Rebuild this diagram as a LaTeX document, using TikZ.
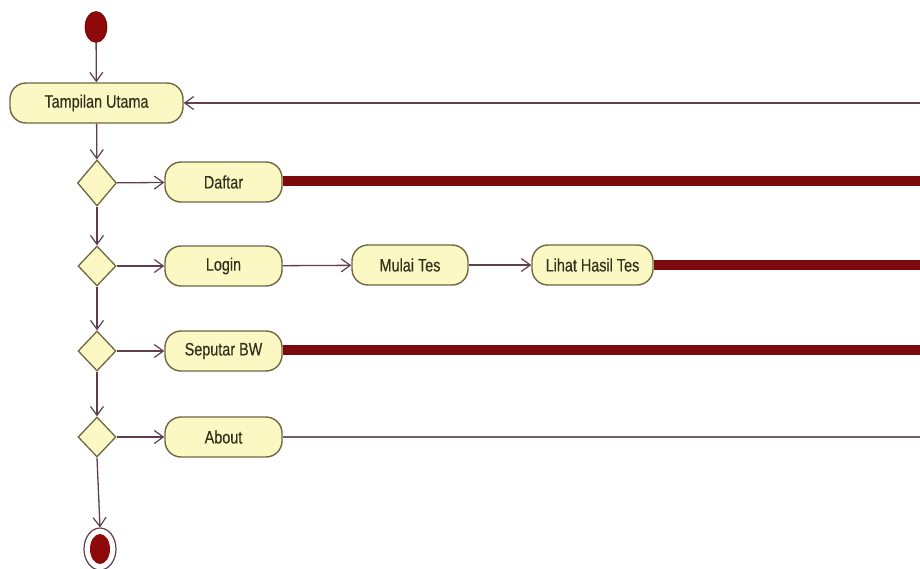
\documentclass[tikz,border=0pt]{standalone}
\usepackage{fontspec}
\setmainfont[FakeStretch=0.8,FakeBold=0.4]{Liberation Sans}
\usetikzlibrary{arrows.meta,shapes.geometric}

\definecolor{actfill}{HTML}{FCF8C4}
\definecolor{actedge}{HTML}{6E6743}
\definecolor{acttext}{HTML}{33311C}
\definecolor{flow}{HTML}{5E3F4E}
\definecolor{thinline}{HTML}{6E6064}
\definecolor{band}{HTML}{7A0A0C}
\definecolor{dot}{HTML}{8E0A0A}

\tikzset{
  activity/.style={draw=actedge, line width=1.4pt, fill=actfill, rounded corners=16pt,
    minimum height=40pt, inner sep=0pt, text=acttext, font=\fontsize{18}{18}\selectfont},
  decision/.style={draw=actedge, line width=1.3pt, fill=actfill, diamond, aspect=1,
    inner sep=0pt},
  flowline/.style={draw=flow, line width=1.3pt, -{Straight Barb[length=9pt,width=13pt,line width=1.2pt]}},
  bandline/.style={draw=band, line width=10pt},
  plainline/.style={draw=thinline, line width=1.5pt},
}

\begin{document}
\begin{tikzpicture}[x=1pt,y=-1pt]
  \useasboundingbox (0,0) rectangle (920,568);

  % start and end states
  \node[ellipse, fill=dot, draw=dot!70!black, line width=0.6pt, minimum width=22pt, minimum height=31pt, inner sep=0pt] (start) at (96,27) {};
  \node[ellipse, draw=flow, line width=1.2pt, fill=white, minimum width=32pt, minimum height=42pt, inner sep=0pt] (stop) at (100,549) {};
  \node[ellipse, fill=dot, minimum width=20pt, minimum height=30pt, inner sep=0pt] (stopdot) at (100,549) {};

  % activities
  \node[activity, minimum width=173pt] (utama) at (96.5,103) {Tampilan Utama};
  \node[activity, minimum width=117pt] (daftar) at (223.5,182) {Daftar};
  \node[activity, minimum width=117pt] (login) at (223.5,266) {Login};
  \node[activity, minimum width=116pt] (mulai) at (410,265) {Mulai Tes};
  \node[activity, minimum width=121pt] (hasil) at (592.5,265) {Lihat Hasil Tes};
  \node[activity, minimum width=117pt] (seputar) at (223.5,351) {Seputar BW};
  \node[activity, minimum width=117pt] (about) at (223.5,437) {About};

  % decisions
  \node[decision, minimum width=39pt, minimum height=46pt] (d1) at (97,183) {};
  \node[decision, minimum width=38pt, minimum height=40pt] (d2) at (97,266) {};
  \node[decision, minimum width=38pt, minimum height=40pt] (d3) at (97,351) {};
  \node[decision, minimum width=38pt, minimum height=40pt] (d4) at (97,437) {};

  % right-edge ends of the return flows
  \coordinate (eu) at (920,103);
  \coordinate (ed) at (920,181);
  \coordinate (eh) at (920,265);
  \coordinate (es) at (920,350);
  \coordinate (ea) at (920,437);

  % main vertical flow
  \draw[flowline] (start) -- (utama);
  \draw[flowline] (utama) -- (d1);
  \draw[flowline] (d1) -- (d2);
  \draw[flowline] (d2) -- (d3);
  \draw[flowline] (d3) -- (d4);
  \draw[flowline] (d4.south) -- (stop.north);

  % branches
  \draw[flowline] (d1) -- (daftar);
  \draw[flowline] (d2) -- (login);
  \draw[flowline] (login) -- (mulai);
  \draw[flowline] (mulai) -- (hasil);
  \draw[flowline] (d3) -- (seputar);
  \draw[flowline] (d4) -- (about);

  % return flows
  \draw[bandline] (daftar.east |- ed) -- (ed);
  \draw[bandline] (hasil.east |- eh) -- (eh);
  \draw[bandline] (seputar.east |- es) -- (es);
  \draw[plainline] (about.east) -- (ea);
  \draw[plainline, -{Straight Barb[length=9pt,width=13pt,line width=1.2pt]}, draw=flow] (eu) -- (utama.east);
\end{tikzpicture}
\end{document}
